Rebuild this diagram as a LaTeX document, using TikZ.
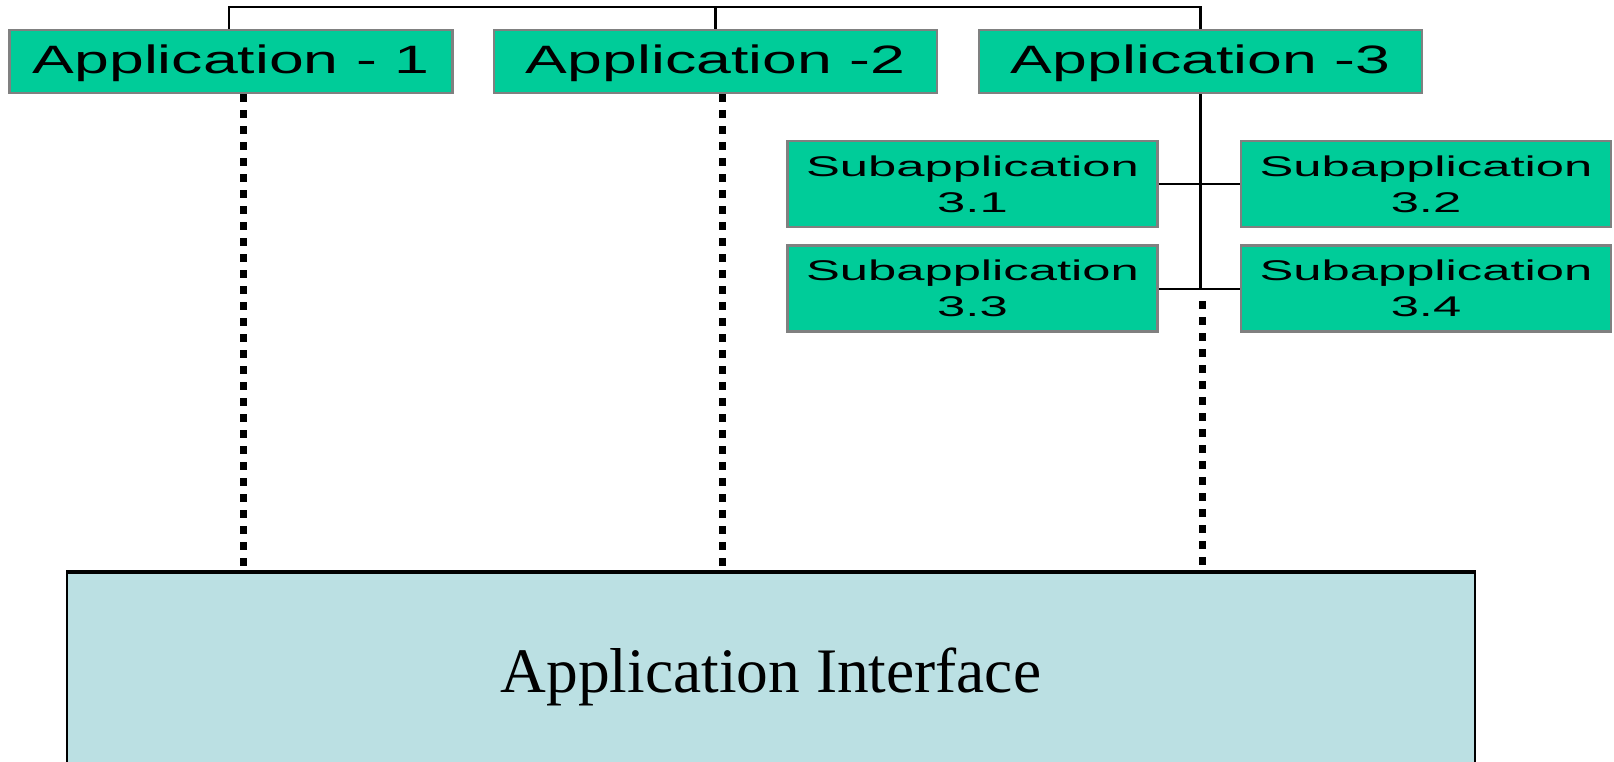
\documentclass[tikz,border=0pt]{standalone}
\usepackage{fontspec}
\usetikzlibrary{calc}
\setmainfont{Liberation Serif}
\newfontfamily\appfont[FakeStretch=1.58]{Liberation Sans}
\newfontfamily\subfont[FakeStretch=1.78]{Liberation Sans}
\definecolor{appgreen}{RGB}{0,204,153}
\definecolor{boxgray}{RGB}{128,128,128}
\definecolor{aiblue}{RGB}{187,224,227}
\begin{document}
\begin{tikzpicture}[x=1pt,y=-1pt,
  appbox/.style={draw=boxgray, line width=2.5pt, fill=appgreen, minimum width=443pt, minimum height=63pt, inner sep=0pt,
    font=\appfont\fontsize{39.6}{44}\selectfont, text height=28pt, text depth=3pt},
  subbox/.style={draw=boxgray, line width=2.5pt, fill=appgreen, minimum width=370pt, minimum height=86pt, inner sep=0pt,
    align=center, font=\subfont\fontsize{28.5}{36}\selectfont},
  aibox/.style={draw=black, line width=1.5pt, fill=aiblue, minimum width=1408pt, minimum height=196pt, inner sep=0pt},
  conn/.style={draw=black, line width=2.5pt},
  mainconn/.style={draw=black, line width=3.5pt},
  thinconn/.style={draw=black, line width=2pt},
  dotline/.style={draw=black, line width=7pt, dash pattern=on 8pt off 8pt}]
\useasboundingbox (0,0) rectangle (1614,762);
\fill[white] (0,0) rectangle (1614,762);

% interface
\node[aibox] (ai) at (771,671) {};
\draw[line width=4pt] (ai.north west) -- (ai.north east);
\node[anchor=base, font=\fontsize{63.4}{70}\selectfont, inner sep=0pt] (ailabel) at (771,692) {Application Interface};

% applications
\node[appbox] (app1) at (231,61.5) {Application - 1};
\node[appbox] (app2) at (715.5,61.5) {Application -2};
\node[appbox] (app3) at (1200.5,61.5) {Application -3};

% subapplications
\node[subbox] (sub31) at (972.5,184) {Subapplication\\3.1};
\node[subbox] (sub32) at (1426,184) {Subapplication\\3.2};
\node[subbox] (sub33) at (972.5,288.5) {Subapplication\\3.3};
\node[subbox] (sub34) at (1426,288.5) {Subapplication\\3.4};

% dotted links to interface
\draw[dotline] ([xshift=12pt]app1.south) -- ([xshift=12pt]app1.south |- ai.north);
\draw[dotline] ([xshift=6.5pt]app2.south) -- ([xshift=6.5pt]app2.south |- ai.north);
\coordinate (d3) at ($(app3.south |- sub33.east)+(2,12.5)$);
\draw[dotline] (d3) -- (d3 |- ai.north);

% top bracket
\coordinate (top) at (0,7);
\draw[conn] ([xshift=-2pt]app1.north) -- ([xshift=-2pt]app1.north |- top) -- (app3.north |- top) -- (app3.north);
\draw[conn] (app2.north) -- (app2.north |- top);

% app3 to subapplications
\draw[mainconn] (app3.south) -- (app3.south |- sub33.east);
\draw[thinconn] (sub31.east) -- (sub32.west);
\draw[thinconn] (sub33.east) -- (sub34.west);
\end{tikzpicture}
\end{document}
